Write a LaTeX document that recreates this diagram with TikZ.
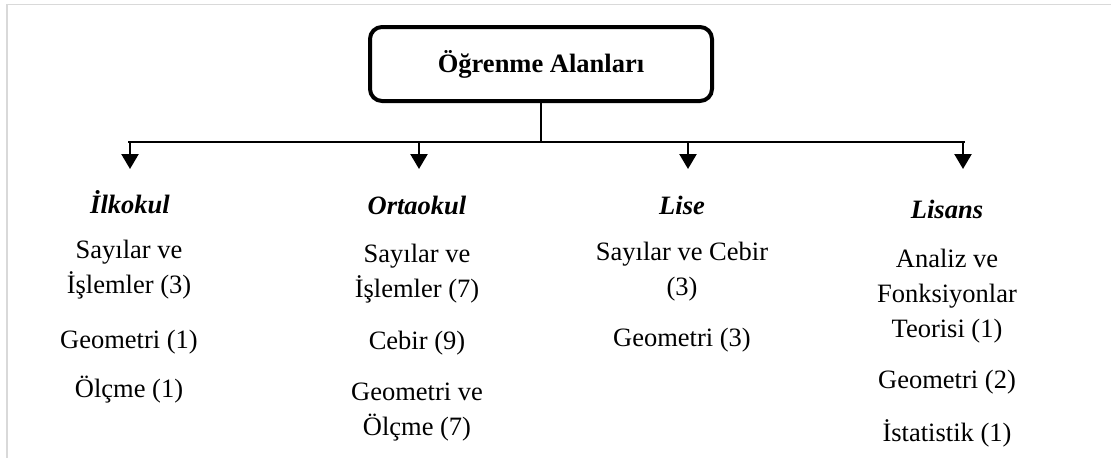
\documentclass[tikz,border=0pt]{standalone}
\usepackage{fontspec}
\setmainfont{Liberation Serif}
\usetikzlibrary{arrows.meta}

\newcommand{\yazi}{\fontsize{26.5}{35}\selectfont}

\tikzset{
	alan/.style={draw,line width=4pt,rounded corners=12pt,minimum width=342pt,minimum height=74pt,inner sep=0pt,font=\yazi\bfseries},
	kademe/.style={inner sep=0pt,font=\yazi\bfseries\itshape},
	konu/.style={inner sep=0pt,align=center,font=\yazi},
	ok/.style={line width=2.4pt,-{Triangle[width=17pt,length=15pt]}}
}

\begin{document}
\begin{tikzpicture}[x=1pt,y=-1pt]
		\useasboundingbox (0,0) rectangle (1111,458);
		% frame
		\draw[line width=1.2pt,color=black!15] (1111,4.5) -- (7,4.5) -- (7,458);
		% top
		\node[alan] (oa) at (541,64) {Öğrenme Alanları};
		\coordinate (m) at (541,142);
		\coordinate (l) at (128,142);
		\coordinate (r) at (965,142);
		\draw[line width=1.5pt] (oa.south) -- (m);
		\draw[line width=2pt] (l) -- (r);
		\foreach \x/\n in {130/a1,419/a2,688/a3,963/a4}{
			\coordinate (\n) at (\x,142);
			\draw[ok] (\n) -- ++(0,27);
		}
		% columns
		\node[kademe] (ilk) at (130,202) {İlkokul};
		\node[konu] (ilk1) at (129,270) {Sayılar ve\\İşlemler (3)};
		\node[konu] (ilk2) at (129,342) {Geometri (1)};
		\node[konu] (ilk3) at (129,390) {Ölçme (1)};

		\node[kademe] (orta) at (417,205) {Ortaokul};
		\node[konu] (orta1) at (417,274) {Sayılar ve\\İşlemler (7)};
		\node[konu] (orta2) at (417,343) {Cebir (9)};
		\node[konu] (orta3) at (417,412) {Geometri ve\\Ölçme (7)};

		\node[kademe] (lise) at (682,205) {Lise};
		\node[konu] (lise1) at (682,272) {Sayılar ve Cebir\\(3)};
		\node[konu] (lise2) at (682,340) {Geometri (3)};

		\node[kademe] (lis) at (947,209) {Lisans};
		\node[konu] (lis1) at (947,296) {Analiz ve\\Fonksiyonlar\\Teorisi (1)};
		\node[konu] (lis2) at (947,382) {Geometri (2)};
		\node[konu] (lis3) at (947,433) {İstatistik (1)};
	\end{tikzpicture}
\end{document}
